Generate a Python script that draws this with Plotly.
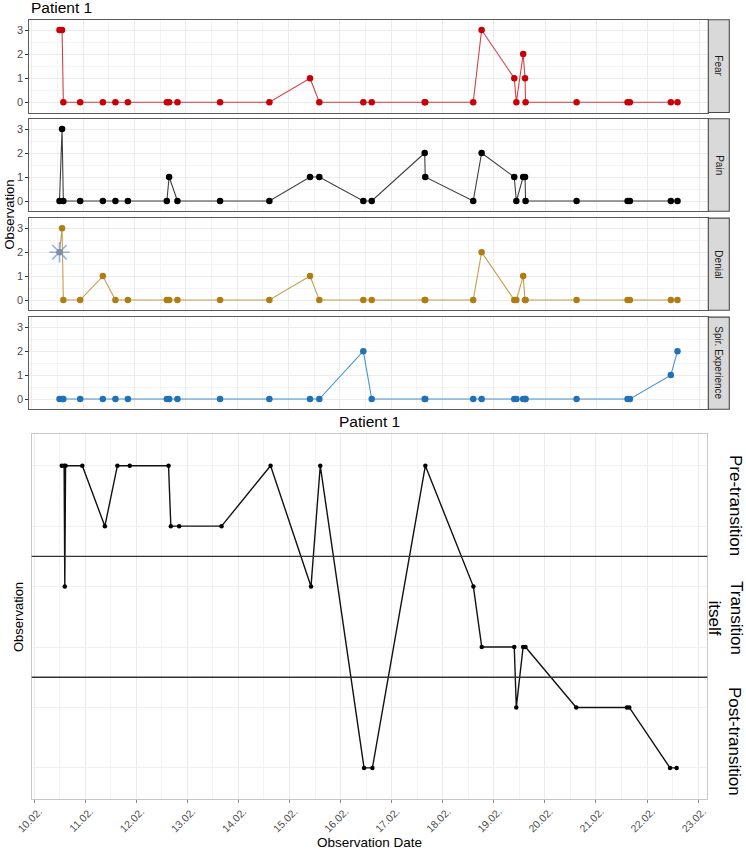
import plotly.graph_objects as go

# ---------------- data ----------------
obs_times = [
    "2019-02-10 12:58", "2019-02-10 14:10", "2019-02-10 14:46", "2019-02-10 22:38",
    "2019-02-11 09:14", "2019-02-11 15:07", "2019-02-11 20:56", "2019-02-12 15:09",
    "2019-02-12 16:14", "2019-02-12 20:07", "2019-02-13 16:03", "2019-02-14 15:06",
    "2019-02-15 10:06", "2019-02-15 14:27", "2019-02-16 11:01", "2019-02-16 14:57",
    "2019-02-17 15:43", "2019-02-17 15:58", "2019-02-18 14:24", "2019-02-18 18:20",
    "2019-02-19 09:36", "2019-02-19 10:34", "2019-02-19 13:46", "2019-02-19 14:38",
    "2019-02-19 14:53", "2019-02-20 14:44", "2019-02-21 14:34", "2019-02-21 15:39",
    "2019-02-22 10:48", "2019-02-22 13:55",
]
fear   = [3, 3, 0, 0, 0, 0, 0, 0, 0, 0, 0, 0, 1, 0, 0, 0, 0, 0, 0, 3, 1, 0, 2, 1, 0, 0, 0, 0, 0, 0]
pain   = [0, 3, 0, 0, 0, 0, 0, 0, 1, 0, 0, 0, 1, 1, 0, 0, 2, 1, 0, 2, 1, 0, 1, 1, 0, 0, 0, 0, 0, 0]
denial = [2, 3, 0, 0, 1, 0, 0, 0, 0, 0, 0, 0, 1, 0, 0, 0, 0, 0, 0, 2, 0, 0, 1, 0, 0, 0, 0, 0, 0, 0]
spir   = [0, 0, 0, 0, 0, 0, 0, 0, 0, 0, 0, 0, 0, 0, 2, 0, 0, 0, 0, 0, 0, 0, 0, 0, 0, 0, 0, 0, 1, 2]
facet_labels = ["Fear", "Pain", "Denial", "Spir. Experience"]

star_time = ["2019-02-10 12:58"]
star_value = [2]

phase_times = [
    "2019-02-10 12:58", "2019-02-10 14:05", "2019-02-10 14:24", "2019-02-10 14:46",
    "2019-02-10 22:38", "2019-02-11 09:14", "2019-02-11 15:07", "2019-02-11 20:56",
    "2019-02-12 15:09", "2019-02-12 16:14", "2019-02-12 20:07", "2019-02-13 16:03",
    "2019-02-14 15:06", "2019-02-15 10:06", "2019-02-15 14:27", "2019-02-16 11:01",
    "2019-02-16 14:57", "2019-02-17 15:50", "2019-02-18 14:24", "2019-02-18 18:20",
    "2019-02-19 09:36", "2019-02-19 10:34", "2019-02-19 13:46", "2019-02-19 14:53",
    "2019-02-20 14:44", "2019-02-21 14:34", "2019-02-21 15:39", "2019-02-22 10:48",
    "2019-02-22 13:55",
]
phase_level = [6, 6, 4, 6, 6, 5, 6, 6, 6, 5, 5, 5, 6, 4, 6, 1, 1, 6, 4, 3, 3, 2, 3, 3, 2, 2, 2, 1, 1]
phase_boundaries = [4.5, 2.5]
phase_labels = ["Pre-transition", "Transition<br>itself", "Post-transition"]

x_range = ["2019-02-09 22:51", "2019-02-23 04:19"]
date_ticks = ["2019-02-%02d" % d for d in range(10, 24)]
date_ticktext = ["%02d.02." % d for d in range(10, 24)]

# ---------------- styling ----------------
W, H = 746, 850
def px_x(v): return v / W
def px_y(v): return 1 - v / H

series = [fear, pain, denial, spir]
marker_colors = ["#C8000A", "#000000", "#B07D12", "#1F72B8"]
line_colors = ["rgba(205,30,35,0.85)", "rgba(40,40,40,0.9)", "rgba(190,145,60,0.9)", "rgba(40,130,200,0.85)"]

top_x_dom = [px_x(29.3), px_x(708.3)]
bot_x_dom = [px_x(31.7), px_x(707.3)]
panel_px = [(19.8, 112.5), (118.8, 211.2), (218.1, 310.2), (317.1, 409.2)]
bottom_px = (434.3, 799.3)

FONT = "Liberation Sans, Arial, sans-serif"
GRID = "#EBEBEB"
MINOR = "#F4F4F4"

fig = go.Figure()
layout = dict(
    width=W, height=H, margin=dict(l=0, r=0, t=0, b=0, autoexpand=False),
    paper_bgcolor="white", plot_bgcolor="white", showlegend=False,
    font=dict(family=FONT, color="#1A1A1A"),
)

shapes = []
annotations = []

def ann(text, x, y, size, angle=0, color="#000000", xanchor="center"):
    return dict(text=text, xref="paper", yref="paper", x=px_x(x), y=px_y(y),
                xanchor=xanchor, yanchor="middle", showarrow=False, textangle=angle,
                font=dict(size=size, color=color, family=FONT))

for i, (vals, mc, lc) in enumerate(zip(series, marker_colors, line_colors)):
    k = "" if i == 0 else str(i + 1)
    xa, ya = "x" + k, "y" + k
    fig.add_trace(go.Scatter(
        x=obs_times, y=vals, xaxis=xa, yaxis=ya, mode="lines",
        line=dict(color=lc, width=1.1), hoverinfo="skip"))
    fig.add_trace(go.Scatter(
        x=obs_times, y=vals, xaxis=xa, yaxis=ya, mode="markers",
        marker=dict(color=mc, size=6.5), hoverinfo="skip"))
    if i == 2:
        fig.add_trace(go.Scatter(
            x=star_time, y=star_value, xaxis=xa, yaxis=ya, mode="markers",
            marker=dict(symbol="asterisk-open", size=17, color="rgba(110,150,225,0.75)",
                        line=dict(color="rgba(110,150,225,0.75)", width=1.6)),
            hoverinfo="skip"))
    top, bot = panel_px[i]
    layout["xaxis" + k] = dict(
        domain=top_x_dom, range=x_range, type="date", anchor=ya,
        showticklabels=False, ticks="",
        tickvals=date_ticks, showgrid=True, gridcolor=GRID, gridwidth=1,
        minor=dict(dtick=43200000, tick0="2019-02-10 12:00", showgrid=True, gridcolor=MINOR, gridwidth=0.7),
        showline=True, mirror=True, linecolor="#5A5A5A", linewidth=1.2,
        zeroline=False,
    )
    layout["yaxis" + k] = dict(
        domain=[px_y(bot), px_y(top)], range=[-0.425, 3.425], anchor=xa,
        tickmode="array", tickvals=[0, 1, 2, 3], ticktext=["0", "1", "2", "3"],
        showticklabels=True, ticks="outside", ticklen=3, tickcolor="#333333",
        tickfont=dict(size=11, color="#4D4D4D", family=FONT),
        showgrid=True, gridcolor=GRID, gridwidth=1,
        minor=dict(tickvals=[0.5, 1.5, 2.5], showgrid=True, gridcolor=MINOR, gridwidth=0.7),
        showline=True, mirror=True, linecolor="#5A5A5A", linewidth=1.2,
        zeroline=False,
    )
    # strip
    shapes.append(dict(type="rect", xref="paper", yref="paper",
                       x0=px_x(708.3), x1=px_x(729.3), y0=px_y(bot), y1=px_y(top),
                       fillcolor="#D9D9D9", line=dict(color="#4A4A4A", width=1.1), layer="above"))
    annotations.append(ann(facet_labels[i], 718.8, (top + bot) / 2, 10, 90, "#1A1A1A"))

# bottom chart
fig.add_trace(go.Scatter(
    x=phase_times, y=phase_level, xaxis="x5", yaxis="y5", mode="lines+markers",
    line=dict(color="#111111", width=1.4), marker=dict(color="#000000", size=4.5),
    hoverinfo="skip"))
for b in phase_boundaries:
    shapes.append(dict(type="line", xref="x5 domain", yref="y5", x0=0, x1=1, y0=b, y1=b,
                       line=dict(color="#333333", width=1.4)))

layout["xaxis5"] = dict(
    domain=bot_x_dom, range=x_range, type="date", anchor="y5",
    tickvals=date_ticks, ticktext=date_ticktext, tickangle=-45,
    ticks="outside", ticklen=3, tickcolor="#888888", ticklabelstandoff=-2,
    ticklabelshift=5,
    tickfont=dict(size=10.5, color="#4D4D4D", family=FONT),
    showgrid=True, gridcolor=GRID, gridwidth=1,
    minor=dict(dtick=43200000, tick0="2019-02-10 12:00", showgrid=True, gridcolor=MINOR, gridwidth=0.7),
    showline=True, mirror=True, linecolor="#C8C8C8", linewidth=1, zeroline=False,
)
layout["yaxis5"] = dict(
    domain=[px_y(bottom_px[1]), px_y(bottom_px[0])], range=[0.48, 6.52], anchor="x5",
    tickvals=[1, 2, 3, 4, 5, 6], showticklabels=False, ticks="",
    showgrid=True, gridcolor="#F0F0F0", gridwidth=1,
    showline=True, mirror=True, linecolor="#C8C8C8", linewidth=1, zeroline=False,
)

# titles / labels
annotations += [
    ann("Patient 1", 29.3, 8, 15.5, xanchor="left"),
    ann("Observation", 10, 214.6, 13, -90),
    ann("Patient 1", 369, 421.7, 15.5),
    ann("Observation", 18, 617, 13, -90),
    ann("Observation Date", 369, 842, 13.5),
]
label_pos = [(736, 505), (726, 618), (735, 741)]
for txt, (lx, ly) in zip(phase_labels, label_pos):
    annotations.append(ann(txt, lx, ly, 17, 90))

layout["shapes"] = shapes
layout["annotations"] = annotations
fig.update_layout(**layout)

fig.write_html("out.html", config={"displayModeBar": False},
               post_script="document.body.style.margin='0px';document.body.style.overflow='hidden';")
